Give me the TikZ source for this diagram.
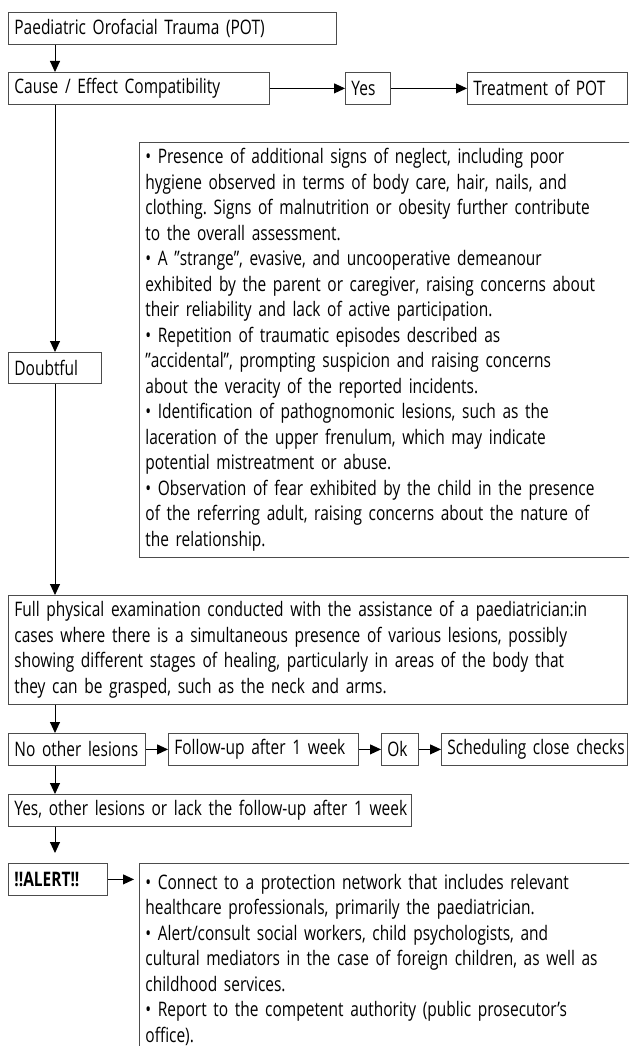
\documentclass[tikz,border=0pt]{standalone}
\usepackage{fontspec}
\setmainfont{Open Sans}[FakeStretch=0.774]
\usetikzlibrary{arrows.meta}

\tikzset{
  box/.style={draw=black!70, line width=0.8pt, anchor=north west, inner xsep=6pt, inner ysep=0pt,
    align=left, font=\fontsize{20}{25.5}\selectfont\frenchspacing},
  arr/.style={-{Triangle[length=11pt,width=10pt]}, line width=0.9pt},
}

\begin{document}
\begin{tikzpicture}[x=1pt,y=1pt]
  \clip (0,0) rectangle (629,-1046);
  \coordinate (colx) at (55,0);

  % Drawing top boxes
  \node [box, text width=316, minimum height=32] (pot) at (8,-12) {\mbox{Paediatric Orofacial Trauma (POT)}};
  \node [box, text width=249, minimum height=32] (cause) at (8,-72) {\mbox{Cause / Effect Compatibility}};
  \node [box, text width=33, minimum height=32] (yes) at (345,-72) {\mbox{Yes}};
  \node [box, text width=148, minimum height=32] (treat) at (467,-72) {\mbox{Treatment of POT}};

  % Drawing box of warning signs
  \node [box, text width=489, minimum height=415] (signs) at (139,-142) {%
    • Presence of additional signs of neglect, including poor\\
    hygiene observed in terms of body care, hair, nails, and\\
    clothing. Signs of malnutrition or obesity further contribute\\
    to the overall assessment.\\
    • A "strange", evasive, and uncooperative demeanour\\
    exhibited by the parent or caregiver, raising concerns about\\
    their reliability and lack of active participation.\\
    • Repetition of traumatic episodes described as\\
    "accidental", prompting suspicion and raising concerns\\
    about the veracity of the reported incidents.\\
    • Identification of pathognomonic lesions, such as the\\
    laceration of the upper frenulum, which may indicate\\
    potential mistreatment or abuse.\\
    • Observation of fear exhibited by the child in the presence\\
    of the referring adult, raising concerns about the nature of\\
    the relationship.};
  \node [box, text width=81, minimum height=31] (doubt) at (8,-352) {\mbox{Doubtful}};

  % Drawing examination box
  \node [box, text width=607, minimum height=109] (exam) at (8,-595) {%
    Full physical examination conducted with the assistance of a paediatrician:in\\
    cases where there is a simultaneous presence of various lesions, possibly\\
    showing different stages of healing, particularly in areas of the body that\\
    they can be grasped, such as the neck and arms.};

  % Drawing follow-up row
  \node [box, text width=125, minimum height=32] (noles) at (8,-733) {\mbox{No other lesions}};
  \node [box, text width=178, minimum height=32] (follow) at (168,-733) {\mbox{Follow-up after 1 week}};
  \node [box, text width=25, minimum height=32] (ok) at (381,-733) {\mbox{Ok}};
  \node [box, text width=174, minimum height=32] (sched) at (441,-733) {\mbox{Scheduling close checks}};
  \node [box, text width=391, minimum height=32] (yesles) at (8,-794) {\mbox{Yes, other lesions or lack the follow-up after 1 week}};

  % Drawing alert boxes
  \node [box, text width=87, minimum height=32, font=\fontsize{20}{25.5}\selectfont\bfseries] (alert) at (8,-863) {\mbox{!!ALERT!!}};
  \node [box, text width=489, minimum height=193] (network) at (139,-863) {%
    • Connect to a protection network that includes relevant\\
    healthcare professionals, primarily the paediatrician.\\
    • Alert/consult social workers, child psychologists, and\\
    cultural mediators in the case of foreign children, as well as\\
    childhood services.\\
    • Report to the competent authority (public prosecutor’s\\
    office).};

  % Drawing arrows
  \draw [arr] (pot.south west -| colx) -- (cause.north west -| colx);
  \draw [arr] (cause) -- (yes);
  \draw [arr] (yes) -- (treat);
  \draw [arr] (cause.south west -| colx) -- (doubt.north west -| colx);
  \draw [arr] (doubt.south west -| colx) -- (exam.north west -| colx);
  \draw [arr] (exam.south west -| colx) -- (noles.north west -| colx);
  \draw [arr] (noles) -- (follow);
  \draw [arr] (follow) -- (ok);
  \draw [arr] (ok) -- (sched);
  \draw [arr] (noles.south west -| colx) -- (yesles.north west -| colx);
  \draw [arr, shorten >=10pt] (yesles.south west -| colx) -- (alert.north west -| colx);
  \draw [arr, shorten >=5pt] (alert.east) -- (alert.east -| network.west);
\end{tikzpicture}
\end{document}
